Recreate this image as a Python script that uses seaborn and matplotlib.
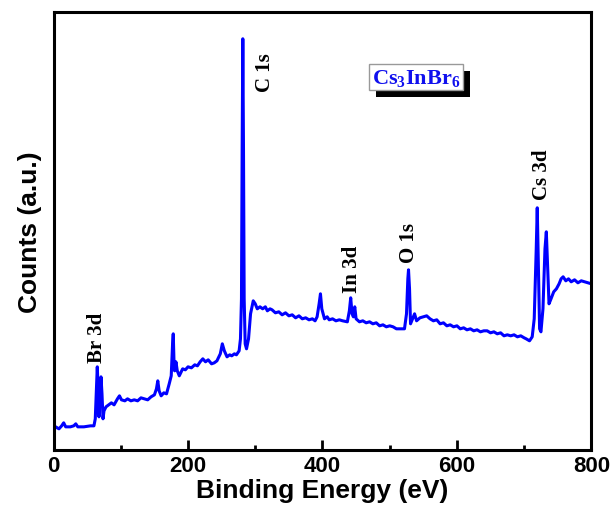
import matplotlib
matplotlib.use("Agg")
import matplotlib.pyplot as plt
import matplotlib.patheffects as pe
import seaborn as sns
import pandas as pd

# XPS survey spectrum of Cs3InBr6
energy = [0, 3, 8, 12, 15, 18, 25, 30, 33, 36, 45, 55, 60,
          62, 64, 65, 66, 67.5, 69, 70.5, 72, 73.5, 75, 78, 82, 86, 90, 95, 98,
          101, 106, 110, 115, 120, 125, 130, 135, 140, 145, 150, 153, 155, 157,
          160, 164, 168, 172, 175,
          177, 178, 179, 180, 182, 184, 187, 192, 196, 200, 205, 210, 214, 218,
          222, 226, 230, 235, 239,
          243, 248, 251, 254, 258, 262, 265, 269, 272, 276, 278, 279.5, 280.5,
          281.5, 282.5, 283.5, 285, 287, 290, 293, 297, 300, 303, 307, 311, 315,
          318, 322, 325, 330, 335, 340, 345, 350, 355, 360, 365, 370, 375, 380,
          385, 389, 392, 395, 397, 399, 403, 407, 410, 415, 420, 425, 430,
          437, 440, 442, 444, 446, 448, 450, 455, 460, 465, 470, 475, 480, 485,
          490, 495, 500, 505, 510, 515, 522,
          525, 527, 528, 529.5, 531, 534, 537, 540, 545, 550, 555, 560, 565,
          570, 575, 580, 585, 590, 595, 600, 605, 610, 615, 620, 625, 630, 635,
          640, 645, 650, 655, 660, 665, 670, 675, 680, 685, 690, 695, 700, 703,
          708, 712, 715, 718, 719.5, 721, 723, 725, 728, 731, 733, 735, 737,
          740, 744, 748, 752, 755, 758, 762, 766, 770, 775, 780, 785, 790, 795,
          800]
counts = [19, 23, 21, 24, 27, 23, 23, 24, 26, 23, 23, 24, 24,
          31, 66, 83, 66, 33, 56, 73, 56, 31, 39, 43, 45, 47, 45, 51, 54,
          50, 49, 51, 49, 50, 49, 52, 51, 50, 53, 55, 61, 69, 59,
          54, 57, 56, 66, 74,
          106, 116, 91, 79, 88, 79, 74, 81, 80, 83, 82, 85, 84, 88,
          91, 88, 90, 86, 87,
          89, 96, 106, 99, 93, 95, 94, 96, 95, 99, 111, 151, 301,
          411, 301, 151, 106, 101, 111, 136, 149, 146, 141, 143, 141, 143,
          139, 141, 140, 137, 138, 135, 137, 134, 135, 132, 134, 131, 132, 130,
          131, 129, 133, 146, 156, 141, 131, 133, 130, 131, 129, 130, 129,
          128, 139, 152, 136, 133, 143, 131, 128, 129, 127, 128, 126, 127, 124,
          125, 123, 124, 123, 121, 121, 121,
          136, 171, 180, 161, 126, 131, 136, 129, 132, 133, 134, 131, 129,
          130, 126, 127, 124, 125, 123, 124, 121, 122, 120, 121, 119, 120, 118,
          119, 119, 117, 118, 116, 117, 114, 115, 114, 115, 113, 114, 112, 111,
          109, 113, 131, 201, 242, 191, 121, 118, 141, 201, 218, 181, 146,
          151, 158, 161, 166, 171, 173, 169, 171, 168, 170, 167, 169, 168, 167,
          166]

peak_labels = ["Br 3d", "C 1s", "In 3d", "O 1s", "Cs 3d"]
label_energy = [65, 314.7, 443.8, 528.4, 726.5]
label_counts = [88, 359, 158, 188, 251]

sample_name = r"Cs$_3$InBr$_6$"
xticks = [0, 200, 400, 600, 800]

sns.set_theme(style="ticks")
plt.rcParams["font.family"] = ["Liberation Sans", "DejaVu Sans"]
plt.rcParams["text.color"] = "black"
plt.rcParams["axes.labelcolor"] = "black"
plt.rcParams["xtick.color"] = "black"
plt.rcParams["mathtext.fontset"] = "custom"
plt.rcParams["mathtext.rm"] = "Liberation Serif:bold"
plt.rcParams["mathtext.bf"] = "Liberation Serif:bold"
plt.rcParams["mathtext.default"] = "bf"

fig = plt.figure(figsize=(6.16, 5.1), dpi=100)
ax = fig.add_axes([0.087, 0.116, 0.873, 0.858])

df = pd.DataFrame({"Binding Energy (eV)": energy, "Counts": counts})
sns.lineplot(data=df, x="Binding Energy (eV)", y="Counts", ax=ax,
             color="#0000ff", linewidth=2.2, estimator=None, sort=False)

ax.set_xlim(0, 800)
ax.set_ylim(0, 437.5)
ax.set_xticks(xticks)
ax.set_xticks([100, 300, 500, 700], minor=True)
ax.set_yticks([])
ax.tick_params(axis="x", which="major", direction="in", length=7, width=2,
               labelsize=16, pad=4, top=False, colors="black")
ax.tick_params(axis="x", which="minor", direction="in", length=3.6, width=2,
               top=False, colors="black")
for lab in ax.get_xticklabels():
    lab.set_fontweight("bold")
for sp in ax.spines.values():
    sp.set_linewidth(2.2)
    sp.set_color("black")

ax.set_xlabel("Binding Energy (eV)", fontsize=19, fontweight="bold", labelpad=1)
ax.set_ylabel("Counts (a.u.)", fontsize=19, fontweight="bold", labelpad=8)

for txt, ex, cy in zip(peak_labels, label_energy, label_counts):
    ax.text(ex, cy, txt, rotation=90, ha="center", va="bottom",
            fontsize=15, fontweight="bold", family="Liberation Serif",
            color="black")

# sample name box with a drop shadow
name = ax.text(539, 372.5, sample_name, ha="center", va="center",
               fontsize=16, fontweight="bold", family="Liberation Serif",
               color="#1010ee",
               bbox=dict(boxstyle="square,pad=0.12", facecolor="white",
                         edgecolor="#999999", linewidth=1))
name.get_bbox_patch().set_path_effects(
    [pe.SimplePatchShadow(offset=(5, -5), shadow_rgbFace="black", alpha=1.0),
     pe.Normal()])

fig.savefig("out.png", dpi=100)
